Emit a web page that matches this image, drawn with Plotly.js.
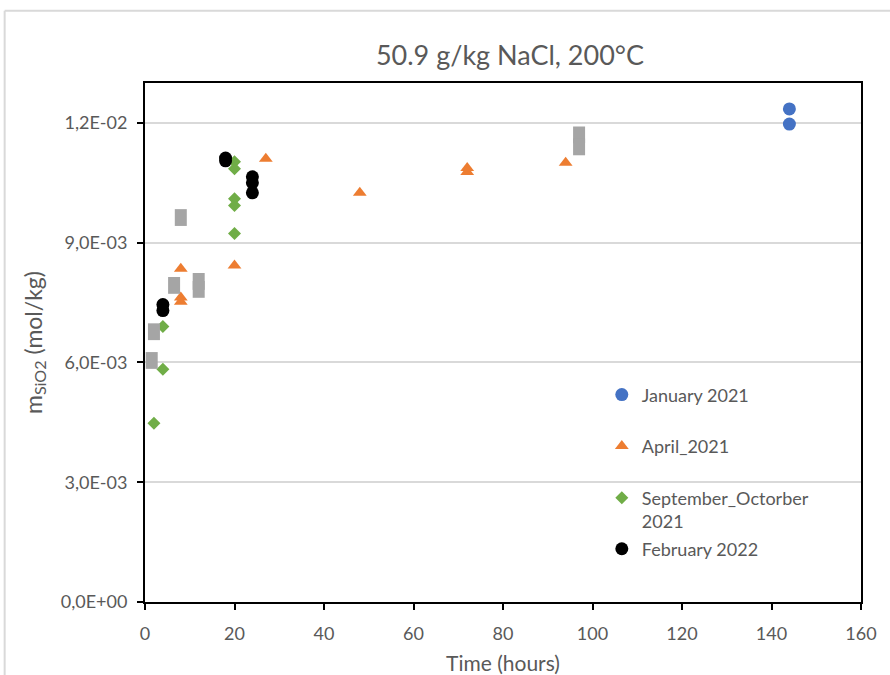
<!DOCTYPE html>
<html>
<head>
<meta charset="utf-8">
<script src="https://cdn.plot.ly/plotly-3.0.1.min.js"></script>
<style>html,body{margin:0;padding:0;background:#fff;}#chart{width:890px;height:675px;}</style>
</head>
<body>
<div id="chart"></div>
<script>
// Series data (time in hours, m_SiO2 in mol/kg)
const janX = [144, 144];
const janY = [0.01235, 0.01197];

const aprX = [8, 8, 8, 20, 27, 48, 72, 72, 94];
const aprY = [0.00835, 0.00763, 0.00752, 0.00843, 0.0111, 0.01025, 0.01087, 0.01077, 0.0110];

const sepX = [2, 4, 4, 20, 20, 20, 20, 20];
const sepY = [0.00448, 0.00583, 0.00690, 0.01103, 0.01085, 0.0101, 0.00993, 0.00923];

const febX = [4, 4, 18, 18, 24, 24, 24];
const febY = [0.00745, 0.00730, 0.01112, 0.01105, 0.01065, 0.01050, 0.01025];

const grayX = [1.5, 2, 6.5, 8, 12, 12, 97, 97];
const grayY = [0.00605, 0.00677, 0.00793, 0.00963, 0.00803, 0.00783, 0.0117, 0.0114];

const yTickVals = [0, 0.003, 0.006, 0.009, 0.012];
const yTickText = ['0,0E+00', '3,0E-03', '6,0E-03', '9,0E-03', '1,2E-02'];
const xTickVals = [0, 20, 40, 60, 80, 100, 120, 140, 160];

const names = ['January 2021', 'April_2021', 'September_Octorber<br>2021', 'February 2022'];

const FONT = 'Lato, "Open Sans", sans-serif';
const TXT = '#595959';

const traces = [
  {x: janX, y: janY, type: 'scatter', mode: 'markers', name: names[0], legend: 'legend',
   marker: {symbol: 'circle', size: 13, color: '#4472C4'}, cliponaxis: false},
  {x: aprX, y: aprY, type: 'scatter', mode: 'markers', name: names[1], legend: 'legend2',
   marker: {symbol: 'triangle-up', size: 12, color: '#ED7D31'}, cliponaxis: false},
  {x: sepX, y: sepY, type: 'scatter', mode: 'markers', name: names[2], legend: 'legend3',
   marker: {symbol: 'diamond', size: 10, color: '#70AD47'}, cliponaxis: false},
  {x: febX, y: febY, type: 'scatter', mode: 'markers', name: names[3], legend: 'legend4',
   marker: {symbol: 'circle', size: 13, color: '#000000'}, cliponaxis: false},
  {x: grayX, y: grayY, type: 'scatter', mode: 'markers', name: 'gray', showlegend: false,
   marker: {symbol: 'line-ns', size: 12, color: '#A5A5A5', line: {width: 12, color: '#A5A5A5'}}, cliponaxis: false}
];

const legBase = {xanchor: 'left', yanchor: 'middle', bgcolor: 'rgba(0,0,0,0)',
  font: {family: FONT, size: 18, color: TXT}, x: 0.638};

const layout = {
  width: 890, height: 675,
  margin: {l: 145, r: 29, t: 83, b: 73},
  paper_bgcolor: '#ffffff', plot_bgcolor: '#ffffff',
  font: {family: FONT, color: TXT},
  title: {text: '50.9 g/kg NaCl, 200°C', font: {family: FONT, size: 27, color: TXT},
    xref: 'container', x: 0.573, xanchor: 'center', yref: 'container', y: 0.918, yanchor: 'middle'},
  xaxis: {
    range: [0, 160], tickvals: xTickVals, showgrid: false, zeroline: false,
    showline: true, linecolor: '#000', linewidth: 2, mirror: true,
    ticks: 'outside', ticklen: 6, tickwidth: 2, tickcolor: '#000', layer: 'below traces',
    ticklabelstandoff: 8,
    tickfont: {family: FONT, size: 18, color: TXT},
    title: {text: 'Time (hours)', font: {family: FONT, size: 21, color: TXT}, standoff: 14}
  },
  yaxis: {
    range: [0, 0.013], tickvals: yTickVals, ticktext: yTickText,
    showgrid: true, gridcolor: '#D9D9D9', gridwidth: 2, zeroline: false,
    showline: true, linecolor: '#000', linewidth: 2, mirror: true,
    ticks: 'outside', ticklen: 6, tickwidth: 2, tickcolor: '#000', layer: 'below traces',
    ticklabelstandoff: 6,
    tickfont: {family: FONT, size: 18, color: TXT},
    title: {text: 'm<sub>SiO2</sub> (mol/kg)', font: {family: FONT, size: 23, color: TXT}, standoff: 12}
  },
  legend: Object.assign({}, legBase, {y: 0.399}),
  legend2: Object.assign({}, legBase, {y: 0.300}),
  legend3: Object.assign({}, legBase, {y: 0.178, valign: 'top'}),
  legend4: Object.assign({}, legBase, {y: 0.102}),
  shapes: [
    {type: 'line', xref: 'paper', yref: 'paper', x0: -0.196, x1: 1.05, y0: 1.139, y1: 1.139,
     line: {color: '#D9D9D9', width: 2}},
    {type: 'line', xref: 'paper', yref: 'paper', x0: -0.196, x1: -0.196, y0: 1.139, y1: -0.2,
     line: {color: '#D9D9D9', width: 2}}
  ]
};

Plotly.newPlot('chart', traces, layout, {displayModeBar: false, staticPlot: true});
</script>
</body>
</html>
